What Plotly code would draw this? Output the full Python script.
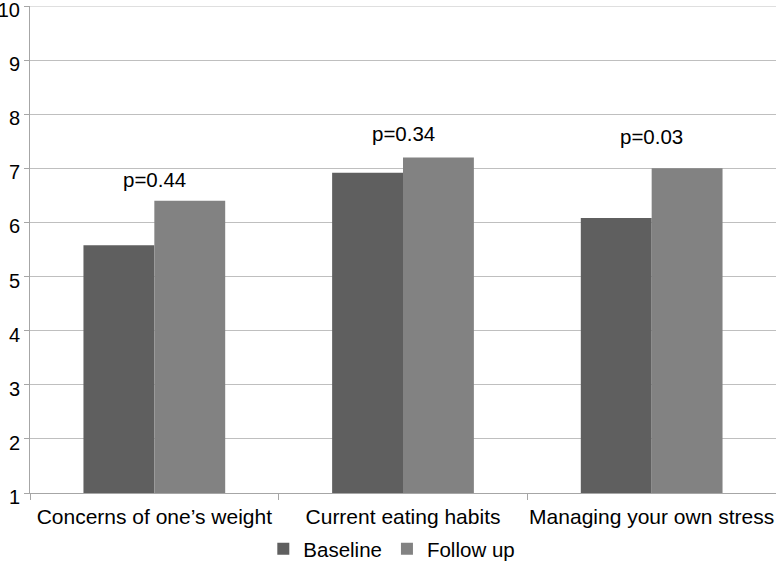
import plotly.graph_objects as go

categories = ["Concerns of one\u2019s weight", "Current eating habits", "Managing your own stress"]
baseline = [5.58, 6.92, 6.08]
follow_up = [6.40, 7.20, 7.00]
p_labels = ["p=0.44", "p=0.34", "p=0.03"]
p_label_y = [6.79, 7.65, 7.58]
y_ticks = list(range(1, 11))

fig = go.Figure()
fig.add_trace(go.Bar(x=categories, y=[v - 1 for v in baseline], base=1, name="Baseline",
                     marker=dict(color="#5f5f5f", line=dict(width=0))))
fig.add_trace(go.Bar(x=categories, y=[v - 1 for v in follow_up], base=1, name="Follow up",
                     marker=dict(color="#828282", line=dict(width=0))))

for c, t, yy in zip(categories, p_labels, p_label_y):
    fig.add_annotation(x=c, y=yy, text=t, showarrow=False,
                       font=dict(size=20.5, color="#000000"))

# top gridline (hidden by plotly at the plot edge)
fig.add_shape(type="line", xref="x domain", yref="y", x0=0, x1=1,
              y0=y_ticks[-1], y1=y_ticks[-1], line=dict(color="#bfbfbf", width=1), layer="below")

fig.update_layout(
    width=776, height=569,
    margin=dict(l=30, r=0, t=6, b=76),
    paper_bgcolor="white", plot_bgcolor="white",
    font=dict(family="Liberation Sans, Arial, sans-serif", size=20, color="#000000"),
    barmode="group", bargap=0.43, bargroupgap=0,
    showlegend=True,
    legend=dict(orientation="h", x=0.485, xanchor="center", y=-0.115, yanchor="middle",
                font=dict(size=20.5), traceorder="normal"),
    xaxis=dict(showline=True, linecolor="#a6a6a6", linewidth=1, ticks="outside",
               tickson="boundaries", ticklen=6, tickcolor="#a6a6a6",
               tickfont=dict(size=21), showgrid=False, automargin=False,
               ticklabelstandoff=5, tickangle=0),
    yaxis=dict(range=[1, 10], tickvals=y_ticks, showline=True,
               linecolor="#a6a6a6", linewidth=1, ticks="outside", ticklen=5,
               tickcolor="#a6a6a6", showgrid=True, gridcolor="#bfbfbf", gridwidth=1,
               tickfont=dict(size=20), zeroline=False, automargin=False,
               ticklabeloverflow="allow", ticklabelshift=4),
)

fig.write_html("out.html", config={"displayModeBar": False},
               post_script="document.body.style.margin='0';")
